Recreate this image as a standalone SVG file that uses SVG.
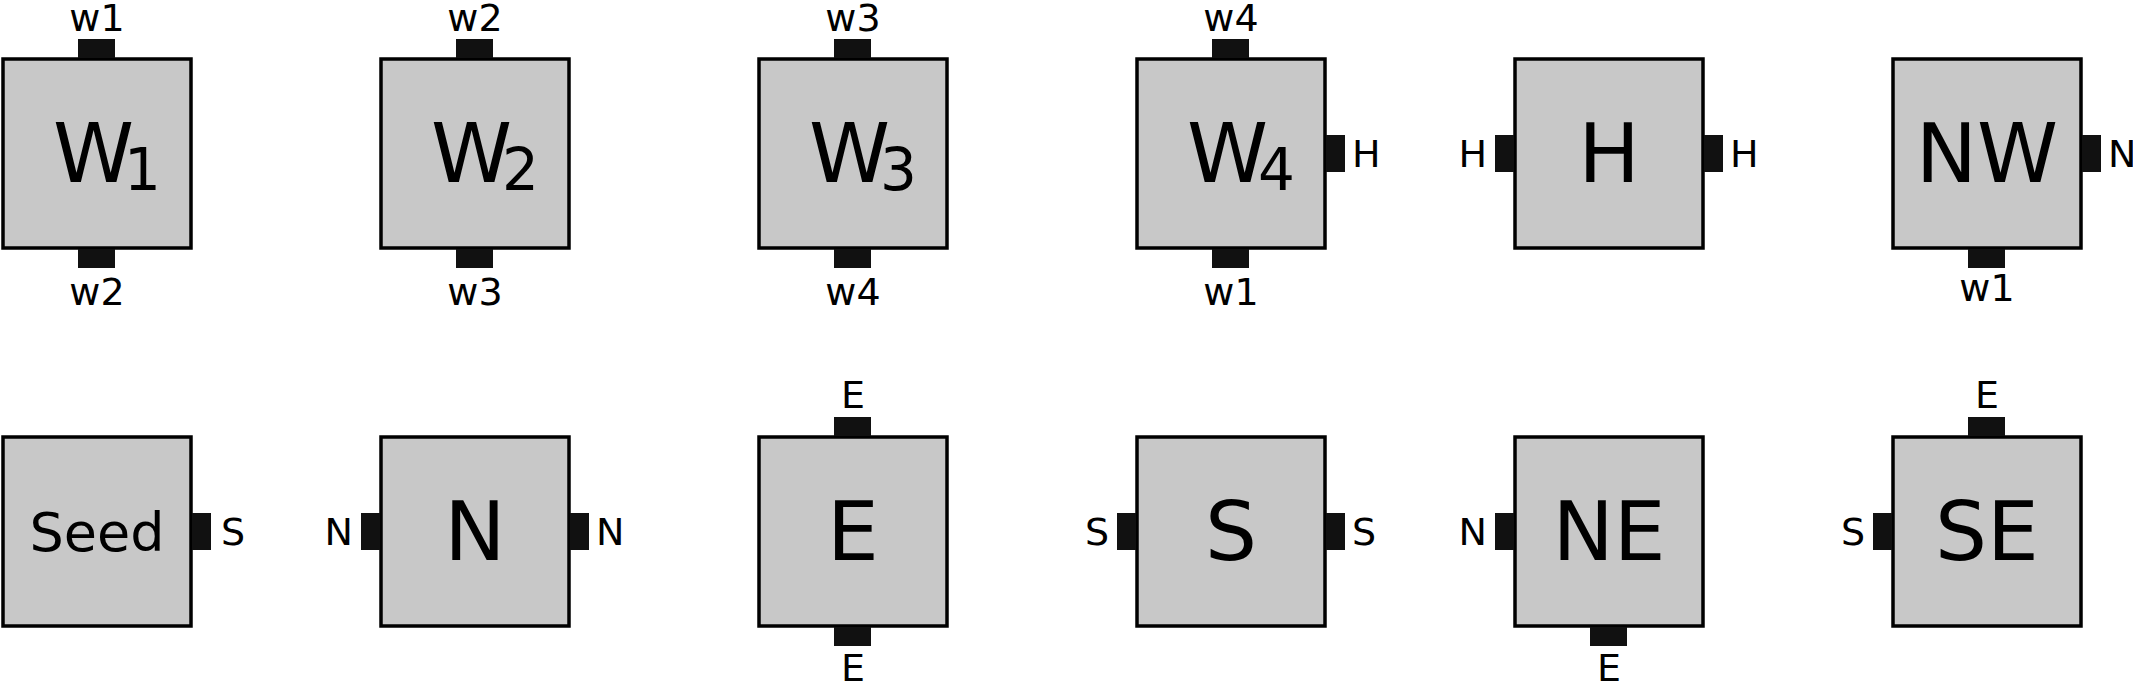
<svg xmlns="http://www.w3.org/2000/svg" width="2133" height="685" viewBox="0 0 2133 685">
<style>
.b{fill:#c8c8c8;stroke:#000;stroke-width:3.5}
.p{fill:#111}
text{font-family:"DejaVu Sans",sans-serif;fill:#000}
.l{font-size:38px}
.m{font-size:82px;text-anchor:middle}
.c{text-anchor:middle}
.s{text-anchor:start}
.e{text-anchor:end}
.w{font-size:82px}
.sub{font-size:58px}
</style>
<rect width="2133" height="685" fill="#fff"/>
<g id="W1"><rect class="b" x="3" y="59" width="188" height="189"/><rect class="p" x="78" y="39" width="37" height="19"/><rect class="p" x="78" y="249" width="37" height="19"/>
<text class="w" x="53" y="182">W<tspan class="sub" dx="-10" dy="8">1</tspan></text>
<text class="l c" x="97" y="31">w1</text><text class="l c" x="97" y="305">w2</text></g>
<g id="W2"><rect class="b" x="381" y="59" width="188" height="189"/><rect class="p" x="456" y="39" width="37" height="19"/><rect class="p" x="456" y="249" width="37" height="19"/>
<text class="w" x="431" y="182">W<tspan class="sub" dx="-10" dy="8">2</tspan></text>
<text class="l c" x="475" y="31">w2</text><text class="l c" x="475" y="305">w3</text></g>
<g id="W3"><rect class="b" x="759" y="59" width="188" height="189"/><rect class="p" x="834" y="39" width="37" height="19"/><rect class="p" x="834" y="249" width="37" height="19"/>
<text class="w" x="809" y="182">W<tspan class="sub" dx="-10" dy="8">3</tspan></text>
<text class="l c" x="853" y="31">w3</text><text class="l c" x="853" y="305">w4</text></g>
<g id="W4"><rect class="b" x="1137" y="59" width="188" height="189"/><rect class="p" x="1212" y="39" width="37" height="19"/><rect class="p" x="1212" y="249" width="37" height="19"/><rect class="p" x="1326" y="135" width="19" height="37"/>
<text class="w" x="1187" y="182">W<tspan class="sub" dx="-10" dy="8">4</tspan></text>
<text class="l c" x="1231" y="31">w4</text><text class="l c" x="1231" y="305">w1</text><text class="l s" x="1352" y="167">H</text></g>
<g id="H"><rect class="b" x="1515" y="59" width="188" height="189"/><rect class="p" x="1495" y="135" width="19" height="37"/><rect class="p" x="1704" y="135" width="19" height="37"/>
<text class="m" x="1609" y="182">H</text>
<text class="l e" x="1487" y="167">H</text><text class="l s" x="1730" y="167">H</text></g>
<g id="NW"><rect class="b" x="1893" y="59" width="188" height="189"/><rect class="p" x="2082" y="135" width="19" height="37"/><rect class="p" x="1968" y="249" width="37" height="19"/>
<text class="m" x="1987" y="182">NW</text>
<text class="l s" x="2108" y="167">N</text><text class="l c" x="1987" y="301">w1</text></g>
<g id="Seed"><rect class="b" x="3" y="437" width="188" height="189"/><rect class="p" x="192" y="513" width="19" height="37"/>
<text class="c" x="97" y="551" font-size="54px">Seed</text>
<text class="l s" x="221" y="545">S</text></g>
<g id="N"><rect class="b" x="381" y="437" width="188" height="189"/><rect class="p" x="361" y="513" width="19" height="37"/><rect class="p" x="570" y="513" width="19" height="37"/>
<text class="m" x="475" y="560">N</text>
<text class="l e" x="353" y="545">N</text><text class="l s" x="596" y="545">N</text></g>
<g id="E"><rect class="b" x="759" y="437" width="188" height="189"/><rect class="p" x="834" y="417" width="37" height="19"/><rect class="p" x="834" y="627" width="37" height="19"/>
<text class="m" x="853" y="560">E</text>
<text class="l c" x="853" y="408">E</text><text class="l c" x="853" y="681">E</text></g>
<g id="S"><rect class="b" x="1137" y="437" width="188" height="189"/><rect class="p" x="1117" y="513" width="19" height="37"/><rect class="p" x="1326" y="513" width="19" height="37"/>
<text class="m" x="1231" y="560">S</text>
<text class="l e" x="1109" y="545">S</text><text class="l s" x="1352" y="545">S</text></g>
<g id="NE"><rect class="b" x="1515" y="437" width="188" height="189"/><rect class="p" x="1495" y="513" width="19" height="37"/><rect class="p" x="1590" y="627" width="37" height="19"/>
<text class="m" x="1609" y="560">NE</text>
<text class="l e" x="1487" y="545">N</text><text class="l c" x="1609" y="681">E</text></g>
<g id="SE"><rect class="b" x="1893" y="437" width="188" height="189"/><rect class="p" x="1968" y="417" width="37" height="19"/><rect class="p" x="1873" y="513" width="19" height="37"/>
<text class="m" x="1987" y="560">SE</text>
<text class="l c" x="1987" y="408">E</text><text class="l e" x="1865" y="545">S</text></g>
<g id="connectors"/>
</svg>
